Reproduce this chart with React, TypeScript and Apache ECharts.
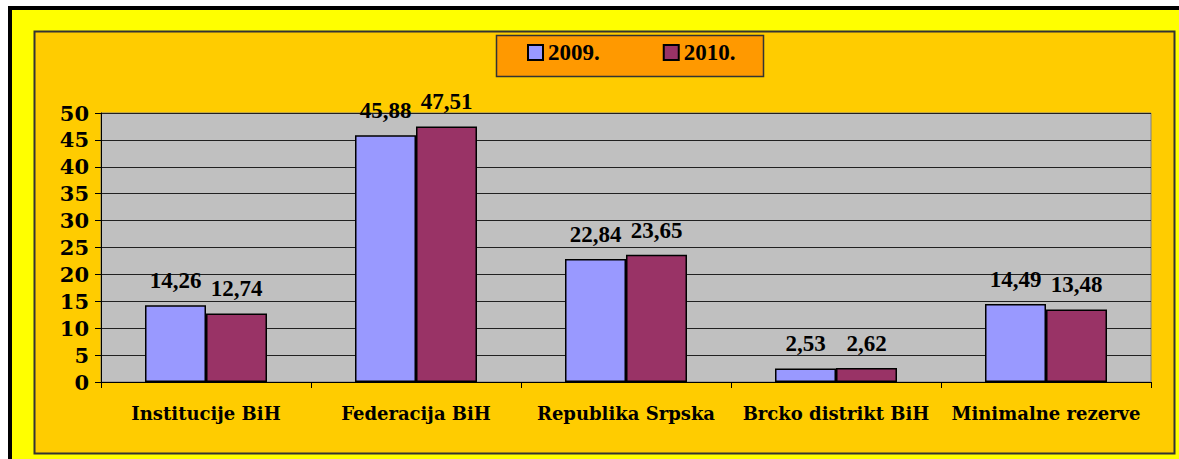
import React, { useEffect, useRef } from "react";
import * as echarts from "echarts";

const categories = [
  "Institucije BiH",
  "Federacija BiH",
  "Republika Srpska",
  "Brcko distrikt BiH",
  "Minimalne rezerve",
];
const series2009 = [14.26, 45.88, 22.84, 2.53, 14.49];
const series2010 = [12.74, 47.51, 23.65, 2.62, 13.48];
const seriesNames = ["2009.", "2010."];
const yTicks = { min: 0, max: 50, interval: 5 };

const SERIF = '"Liberation Serif", "Times New Roman", serif';
const WIDE_SERIF = '"DejaVu Serif", "Liberation Serif", serif';

export default function App() {
  const ref = useRef<HTMLDivElement>(null);

  useEffect(() => {
    if (!ref.current) return;
    const chart = echarts.init(ref.current, undefined, { renderer: "svg" });
    const fmt = (p: any) => String(Number(p.value).toFixed(2)).replace(".", ",");
    const labelStyle = {
      show: true,
      position: "top",
      distance: 13,
      formatter: fmt,
      fontFamily: SERIF,
      fontWeight: "bold",
      fontSize: 23,
      color: "#000",
    };
    chart.setOption({
      animation: false,
      backgroundColor: "#ffffff",
      graphic: [
        { type: "rect", z: -10, shape: { x: 8, y: 6, width: 1300, height: 600 }, style: { fill: "#000000" } },
        { type: "rect", z: -9, shape: { x: 12, y: 10, width: 1300, height: 600 }, style: { fill: "#FFFF00" } },
        {
          type: "rect",
          z: -8,
          shape: { x: 34.5, y: 31.5, width: 1140, height: 422 },
          style: { fill: "#FFCC00", stroke: "#333333", lineWidth: 2 },
        },
        {
          type: "rect",
          z: -7,
          shape: { x: 496.5, y: 35.5, width: 267, height: 41 },
          style: { fill: "#FF9900", stroke: "#333333", lineWidth: 1.5 },
        },
      ],
      legend: {
        left: 527,
        top: 41,
        padding: 0,
        itemWidth: 15,
        itemHeight: 15,
        itemGap: 63,
        icon: "rect",
        textStyle: { fontFamily: SERIF, fontWeight: "bold", fontSize: 23, color: "#000" },
        data: seriesNames,
      },
      grid: {
        left: 101,
        top: 113,
        width: 1050,
        height: 269,
        show: true,
        backgroundColor: "#C0C0C0",
        borderColor: "#808080",
        borderWidth: 1,
        containLabel: false,
      },
      xAxis: {
        type: "category",
        data: categories,
        axisLine: { show: true, lineStyle: { color: "#000", width: 1 } },
        axisTick: { show: true, length: 6, alignWithLabel: false, lineStyle: { color: "#000" } },
        axisLabel: {
          interval: 0,
          margin: 22,
          fontFamily: WIDE_SERIF,
          fontWeight: "bold",
          fontSize: 18,
          color: "#000",
        },
        splitLine: { show: false },
      },
      yAxis: {
        type: "value",
        min: yTicks.min,
        max: yTicks.max,
        interval: yTicks.interval,
        axisLine: { show: true, lineStyle: { color: "#000", width: 1 } },
        axisTick: { show: true, length: 6, inside: false, lineStyle: { color: "#000" } },
        axisLabel: {
          margin: 12,
          fontFamily: WIDE_SERIF,
          fontWeight: "bold",
          fontSize: 21,
          color: "#000",
        },
        splitLine: { show: true, lineStyle: { color: "#202020", width: 1 } },
      },
      series: [
        {
          name: seriesNames[0],
          type: "bar",
          data: series2009,
          barWidth: 61,
          barGap: "0%",
          itemStyle: { color: "#9999FF", borderColor: "#000", borderWidth: 1.5 },
          label: labelStyle,
        },
        {
          name: seriesNames[1],
          type: "bar",
          data: series2010,
          barWidth: 61,
          barGap: "0%",
          itemStyle: { color: "#993366", borderColor: "#000", borderWidth: 1.5 },
          label: labelStyle,
        },
      ],
    });
    return () => chart.dispose();
  }, []);

  return (
    <div
      ref={ref}
      style={{ position: "absolute", left: 0, top: 0, width: 1179, height: 459 }}
    />
  );
}
